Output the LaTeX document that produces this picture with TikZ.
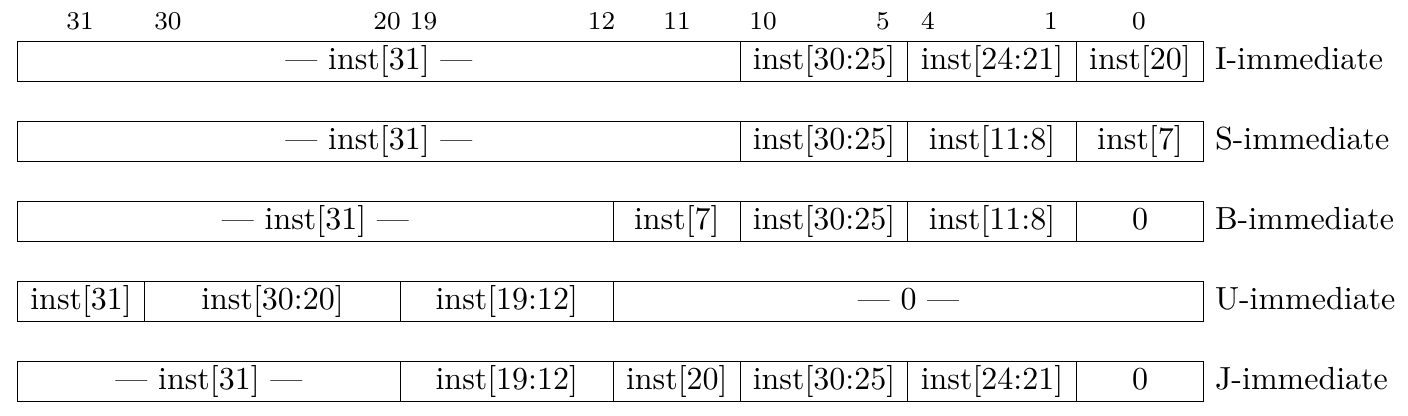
\documentclass[tikz,border=0pt]{standalone}
\begin{document}
\begin{tikzpicture}[x=0.3125pt,y=-0.3125pt,
  cell/.style={draw=black, line width=0.4pt, inner sep=0pt, outer sep=0pt, minimum height=12.5pt, text height=7.5pt, text depth=2.5pt},
  rowlabel/.style={anchor=west, inner sep=3.33pt, text height=7.5pt, text depth=2.5pt},
  bitnum/.style={anchor=base, inner sep=0pt, font=\footnotesize}]
\useasboundingbox (0,0) rectangle (1408,416);
% column boundaries (px)
\def\xa{17.5}\def\xb{144.7}\def\xc{400.3}\def\xd{613.3}
\def\xe{740.3}\def\xf{907.7}\def\xg{1076.3}\def\xh{1203.7}
\newcommand{\fieldcell}[5]{%
  \pgfmathsetmacro\cellw{(#3-#2)*0.3125}%
  \pgfmathsetmacro\cellx{(#2+#3)/2}%
  \pgfmathsetmacro\celly{#4+20}%
  \node[cell, minimum width=\cellw pt] (#1) at (\cellx,\celly) {#5};}
% bit numbers
\node[bitnum] (n31) at (80,29.3) {31};
\node[bitnum] (n30) at (168,29.3) {30};
\node[bitnum] (n20) at (387,29.3) {20};
\node[bitnum] (n19) at (423.5,29.3) {19};
\node[bitnum] (n12) at (601.5,29.3) {12};
\node[bitnum] (n11) at (677,29.3) {11};
\node[bitnum] (n10) at (763,29.3) {10};
\node[bitnum] (n5) at (883,29.3) {5};
\node[bitnum] (n4) at (928,29.3) {4};
\node[bitnum] (n1) at (1051,29.3) {1};
\node[bitnum] (n0) at (1139,29.3) {0};
% I-immediate
\fieldcell{i1}{\xa}{\xe}{41.5}{--- inst[31] ---}
\fieldcell{i2}{\xe}{\xf}{41.5}{inst[30:25]}
\fieldcell{i3}{\xf}{\xg}{41.5}{inst[24:21]}
\fieldcell{i4}{\xg}{\xh}{41.5}{inst[20]}
\node[rowlabel] (li) at (i4.east) {I-immediate};
% S-immediate
\fieldcell{s1}{\xa}{\xe}{121.5}{--- inst[31] ---}
\fieldcell{s2}{\xe}{\xf}{121.5}{inst[30:25]}
\fieldcell{s3}{\xf}{\xg}{121.5}{inst[11:8]}
\fieldcell{s4}{\xg}{\xh}{121.5}{inst[7]}
\node[rowlabel] (ls) at (s4.east) {S-immediate};
% B-immediate
\fieldcell{b1}{\xa}{\xd}{201.5}{--- inst[31] ---}
\fieldcell{b2}{\xd}{\xe}{201.5}{inst[7]}
\fieldcell{b3}{\xe}{\xf}{201.5}{inst[30:25]}
\fieldcell{b4}{\xf}{\xg}{201.5}{inst[11:8]}
\fieldcell{b5}{\xg}{\xh}{201.5}{0}
\node[rowlabel] (lb) at (b5.east) {B-immediate};
% U-immediate
\fieldcell{u1}{\xa}{\xb}{281.5}{inst[31]}
\fieldcell{u2}{\xb}{\xc}{281.5}{inst[30:20]}
\fieldcell{u3}{\xc}{\xd}{281.5}{inst[19:12]}
\fieldcell{u4}{\xd}{\xh}{281.5}{--- 0 ---}
\node[rowlabel] (lu) at (u4.east) {U-immediate};
% J-immediate
\fieldcell{j1}{\xa}{\xc}{361.5}{--- inst[31] ---}
\fieldcell{j2}{\xc}{\xd}{361.5}{inst[19:12]}
\fieldcell{j3}{\xd}{\xe}{361.5}{inst[20]}
\fieldcell{j4}{\xe}{\xf}{361.5}{inst[30:25]}
\fieldcell{j5}{\xf}{\xg}{361.5}{inst[24:21]}
\fieldcell{j6}{\xg}{\xh}{361.5}{0}
\node[rowlabel] (lj) at (j6.east) {J-immediate};
\end{tikzpicture}
\end{document}
